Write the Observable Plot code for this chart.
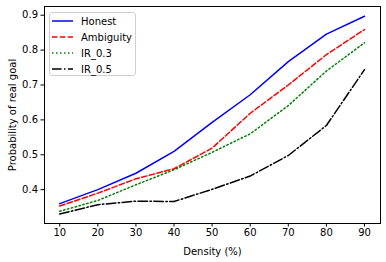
<!DOCTYPE html>
<html><head><meta charset="utf-8">
<script src="https://cdn.jsdelivr.net/npm/d3@7"></script>
<script src="https://cdn.jsdelivr.net/npm/@observablehq/plot@0.6"></script>
<style>
body{margin:0;background:#fff;font-family:"DejaVu Sans",sans-serif;}
#wrap{position:relative;width:386px;height:262px;}
#legend{position:absolute;left:49px;top:12px;width:87px;height:64px;border:1px solid #d0d0d0;border-radius:3px;background:rgba(255,255,255,0.8);box-sizing:border-box;font-size:10px;color:#000;}
#legend .it{position:absolute;left:2px;height:14px;display:flex;align-items:center;}
#legend svg{margin-right:7px;}
</style></head>
<body><div id="wrap"><div id="chart"></div><div id="legend"></div></div>
<script>
const density = [10,20,30,40,50,60,70,80,90];
const honest = [0.360,0.400,0.447,0.510,0.593,0.672,0.767,0.846,0.897];
const ambiguity = [0.353,0.390,0.431,0.460,0.519,0.619,0.700,0.787,0.859];
const ir03 = [0.338,0.369,0.414,0.457,0.507,0.560,0.641,0.740,0.821];
const ir05 = [0.330,0.357,0.367,0.366,0.401,0.439,0.498,0.584,0.744];
const seriesNames = ["Honest","Ambiguity","IR_0.3","IR_0.5"];
const xTicks = [10,20,30,40,50,60,70,80,90];
const yTicks = [0.4,0.5,0.6,0.7,0.8,0.9];

const styles = {
  "Honest": {stroke:"#0000ff", dash:null},
  "Ambiguity": {stroke:"#ff0000", dash:"5.5,2.4"},
  "IR_0.3": {stroke:"#008000", dash:"1.5,2.5"},
  "IR_0.5": {stroke:"#000000", dash:"9.6,2.4,1.5,2.4"}
};
const values = [honest, ambiguity, ir03, ir05];
const data = seriesNames.flatMap((s,i)=>density.map((d,j)=>({series:s, x:d, y:values[i][j]})));

const marks = [Plot.frame({stroke:"#000", strokeWidth:1})];
seriesNames.forEach(s=>{
  marks.push(Plot.line(data.filter(d=>d.series===s), {x:"x", y:"y", stroke:styles[s].stroke, strokeWidth:1.5, strokeDasharray:styles[s].dash}));
});

const chart = Plot.plot({
  width:386, height:262,
  marginLeft:44, marginRight:6, marginTop:6, marginBottom:39,
  style:{fontFamily:"DejaVu Sans, sans-serif", fontSize:"10px", color:"#000", background:"#fff"},
  x:{domain:[6,94.2], ticks:xTicks, tickSize:3.5, tickPadding:2, label:"Density (%)", labelArrow:"none", labelAnchor:"center", labelOffset:31, tickFormat:d=>String(d)},
  y:{domain:[0.303,0.925], ticks:yTicks, tickSize:3.5, tickPadding:3, label:"Probability of real goal", labelArrow:"none", labelAnchor:"center", labelOffset:36, tickFormat:d=>d.toFixed(1)},
  marks
});
document.getElementById("chart").appendChild(chart);
chart.querySelectorAll('[aria-label="x-axis label"] text, [aria-label="y-axis label"] text').forEach(t=>{t.style.fontSize="10px"; t.textContent=t.textContent.replace(/\s*[→↑]\s*/g,"").replace(/^[↑]\s*/,"");});

const leg = document.getElementById("legend");
seriesNames.forEach((s,i)=>{
  const it = document.createElement("div");
  it.className="it"; it.style.top=(1+i*16)+"px";
  it.innerHTML = `<svg width="22" height="6"><line x1="0" y1="3" x2="21" y2="3" stroke="${styles[s].stroke}" stroke-width="1.5" ${styles[s].dash?`stroke-dasharray="${styles[s].dash}"`:""}/></svg><span>${s}</span>`;
  leg.appendChild(it);
});
</script></body></html>
